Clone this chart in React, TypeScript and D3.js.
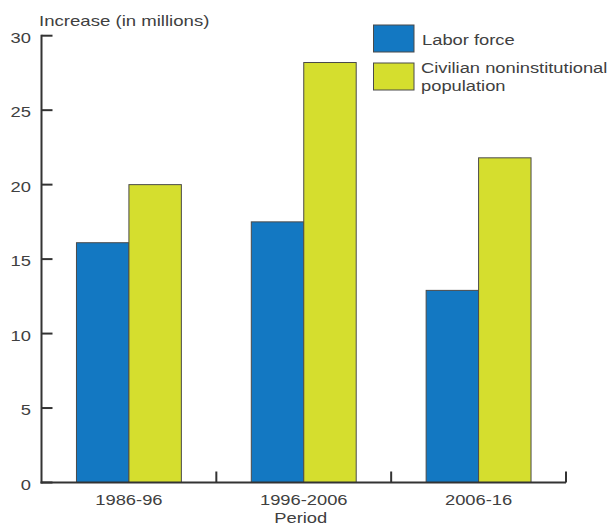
import React from "react";
import * as d3 from "d3";

const periods = ["1986-96", "1996-2006", "2006-16"];
const seriesNames = ["Labor force", "Civilian noninstitutional population"];
const laborForce = [16.1, 17.5, 12.9];
const civilianPop = [20.0, 28.2, 21.8];
const yTicks = [0, 5, 10, 15, 20, 25, 30];
const colors = ["#1378c2", "#d5de2e"];

const W = 610;
const H = 527;
const FONT = "'Liberation Sans', Arial, Helvetica, sans-serif";
const SX = 1.31;
const TXT = "#404040";
const AX = "#333333";

function SText({ x, y, anchor = "start", size = 14, children }: any) {
  return (
    <text
      transform={`translate(${x},${y}) scale(${SX},1)`}
      textAnchor={anchor}
      fontSize={size}
      fontFamily={FONT}
      fill={TXT}
    >
      {children}
    </text>
  );
}

export default function App() {
  const left = 41.5;
  const right = 566;
  const y0 = 482.5;
  const yTop = 35.7;

  const x = d3.scaleBand<string>().domain(periods).range([left, right]).paddingInner(0.4).paddingOuter(0.2);
  const xs = d3.scaleBand<string>().domain(seriesNames).range([0, x.bandwidth()]);
  const y = d3.scaleLinear().domain([0, 30]).range([y0, yTop]);
  const data = [laborForce, civilianPop];
  const step = x.step();

  return (
    <svg width={W} height={H} style={{ position: "absolute", left: 0, top: 0, background: "#fff" }}>
      <rect x={0} y={0} width={W} height={H} fill="#fff" />
      {/* title */}
      <SText x={39} y={26} size={14.2}>Increase (in millions)</SText>

      {/* bars */}
      {periods.map((p, i) =>
        seriesNames.map((s, j) => {
          const v = data[j][i];
          return (
            <rect
              key={p + s}
              x={(x(p) as number) + (xs(s) as number)}
              y={y(v)}
              width={xs.bandwidth()}
              height={y0 - y(v)}
              fill={colors[j]}
              stroke="#4a4a4a"
              strokeWidth={1}
            />
          );
        })
      )}

      {/* y axis */}
      <line x1={left} x2={left} y1={y(30) - 1} y2={y0 + 1} stroke={AX} strokeWidth={2} />
      {yTicks.map((t) => (
        <g key={t}>
          <line x1={left} x2={left + 11} y1={y(t)} y2={y(t)} stroke={AX} strokeWidth={2} />
          <SText x={31} y={y(t) + 7} anchor="end" size={14}>
            {t}
          </SText>
        </g>
      ))}

      {/* x axis */}
      <line x1={left - 1} x2={right} y1={y0} y2={y0} stroke={AX} strokeWidth={2} />
      {periods.map((p) => {
        const bx = (x(p) as number) - x.paddingOuter() * step + step;
        return (
          <line key={"t" + p} x1={bx} x2={bx} y1={y0} y2={y0 - 11} stroke={AX} strokeWidth={2} />
        );
      })}
      {periods.map((p) => (
        <SText key={"l" + p} x={(x(p) as number) + x.bandwidth() / 2} y={505} anchor="middle" size={14}>
          {p}
        </SText>
      ))}
      <SText x={(left + right) / 2 - 3} y={523} anchor="middle" size={14}>
        Period
      </SText>

      {/* legend */}
      <rect x={373.5} y={25} width={40.5} height={27} fill={colors[0]} stroke="#4a4a4a" strokeWidth={1} />
      <rect x={373.5} y={63} width={40.5} height={27} fill={colors[1]} stroke="#4a4a4a" strokeWidth={1} />
      <SText x={422} y={45} size={14}>Labor force</SText>
      <SText x={421} y={73} size={14}>Civilian noninstitutional</SText>
      <SText x={421} y={91} size={14}>population</SText>
    </svg>
  );
}
